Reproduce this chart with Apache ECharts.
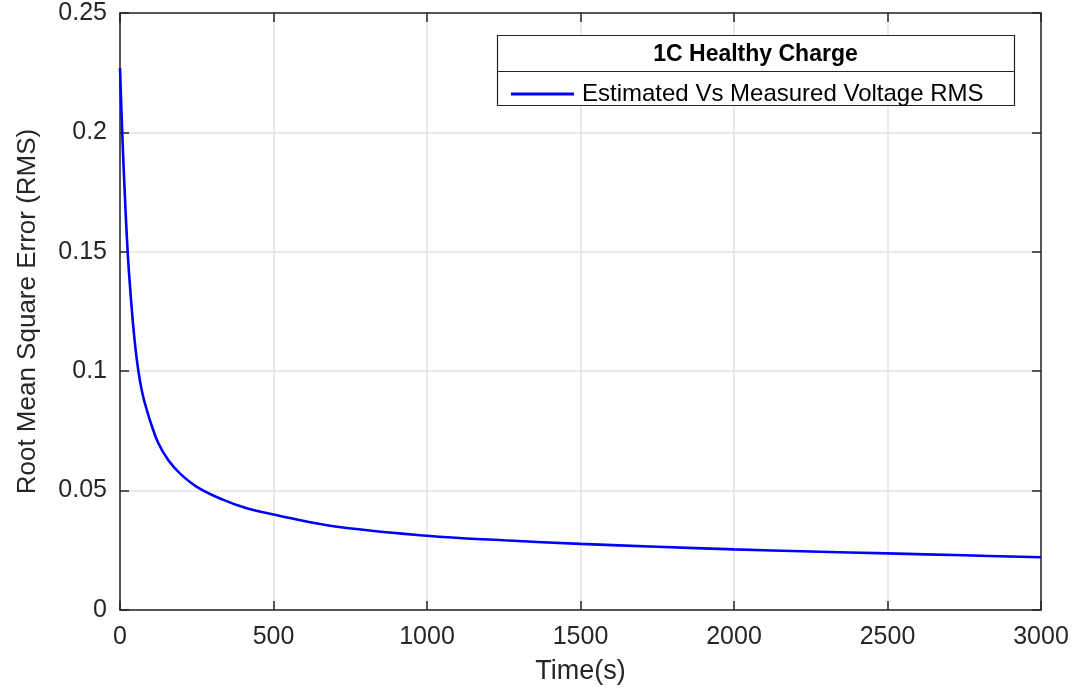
<!DOCTYPE html>
<html>
<head>
<meta charset="utf-8">
<script src="https://cdn.jsdelivr.net/npm/echarts@6/dist/echarts.min.js"></script>
<style>
html,body{margin:0;padding:0;background:#fff;}
#chart{width:1081px;height:690px;}
</style>
</head>
<body>
<div id="chart"></div>
<script>
// Data
const timeValues = [0, 5, 10, 15, 20, 25, 30, 40, 50, 60, 70, 80, 100, 125, 157, 195, 250, 337, 413, 500, 684, 1000, 1250, 1500, 1750, 2000, 2250, 2500, 2750, 3000];
const rmsValues = [0.227, 0.208, 0.191, 0.176, 0.162, 0.150, 0.140, 0.1235, 0.110, 0.100, 0.0925, 0.087, 0.0785, 0.0698, 0.0628, 0.0572, 0.0516, 0.0461, 0.0426, 0.0400, 0.0353, 0.0311, 0.0292, 0.0277, 0.0265, 0.0254, 0.0245, 0.0237, 0.0229, 0.0221];
const seriesName = 'Estimated Vs Measured Voltage RMS';
const legendTitle = '1C Healthy Charge';
const xTitle = 'Time(s)';
const yTitle = 'Root Mean Square Error (RMS)';

const axisColor = '#262626';
const gridColor = '#e3e3e3';
const font = 'Liberation Sans, Arial, Helvetica, sans-serif';

const chart = echarts.init(document.getElementById('chart'), null, {renderer: 'canvas'});
const points = timeValues.map((t, i) => [t, rmsValues[i]]);

const common = {
  axisLine: {show: true, onZero: false, lineStyle: {color: axisColor, width: 1.5}},
  axisTick: {show: true, inside: true, length: 9, lineStyle: {color: axisColor, width: 1.5}}
};

chart.setOption({
  animation: false,
  backgroundColor: '#ffffff',
  grid: {left: 120, right: 40, top: 13, bottom: 80, containLabel: false, outerBoundsMode: 'none'},
  xAxis: [
    Object.assign({
      type: 'value', min: 0, max: 3000, interval: 500, position: 'bottom',
      name: xTitle, nameLocation: 'middle', nameGap: 48,
      nameTextStyle: {fontFamily: font, fontSize: 27, color: axisColor},
      axisLabel: {fontFamily: font, fontSize: 25, color: axisColor, margin: 15,
        formatter: v => String(v)},
      splitLine: {show: true, lineStyle: {color: gridColor, width: 1.5}}
    }, common),
    Object.assign({
      type: 'value', min: 0, max: 3000, interval: 500, position: 'top',
      axisLabel: {show: false}, splitLine: {show: false}
    }, common)
  ],
  yAxis: [
    Object.assign({
      type: 'value', min: 0, max: 0.25, interval: 0.05, position: 'left',
      name: yTitle, nameLocation: 'middle', nameGap: 79, nameRotate: 90,
      nameTextStyle: {fontFamily: font, fontSize: 26, color: axisColor},
      axisLabel: {fontFamily: font, fontSize: 25, color: axisColor, margin: 13,
        formatter: v => String(parseFloat(v.toFixed(2)))},
      splitLine: {show: true, lineStyle: {color: gridColor, width: 1.5}}
    }, common),
    Object.assign({
      type: 'value', min: 0, max: 0.25, interval: 0.05, position: 'right',
      axisLabel: {show: false}, splitLine: {show: false}
    }, common)
  ],
  legend: {
    show: true,
    left: 506, top: 77,
    itemWidth: 63, itemHeight: 3,
    icon: 'rect',
    textStyle: {fontFamily: font, fontSize: 24, color: '#000', padding: [0, 0, 0, 3]},
    data: [seriesName],
    z: 10
  },
  graphic: [
    {
      type: 'rect', z: 5,
      shape: {x: 497.5, y: 35.5, width: 517, height: 70},
      style: {fill: '#ffffff', stroke: axisColor, lineWidth: 1.2}
    },
    {
      type: 'line', z: 6,
      shape: {x1: 497.5, y1: 71.5, x2: 1014.5, y2: 71.5},
      style: {stroke: axisColor, lineWidth: 1.2}
    },
    {
      type: 'text', z: 6,
      style: {x: 755.5, y: 55, text: legendTitle, textAlign: 'center', textVerticalAlign: 'middle',
        fontFamily: font, fontWeight: 'bold', fontSize: 23, fill: '#000'}
    }
  ],
  series: [{
    name: seriesName,
    type: 'line',
    xAxisIndex: 0, yAxisIndex: 0,
    data: points,
    showSymbol: false,
    smooth: 0.4,
    color: '#0000ff',
    lineStyle: {color: '#0000ff', width: 2.6},
    z: 3
  }]
});
</script>
</body>
</html>
